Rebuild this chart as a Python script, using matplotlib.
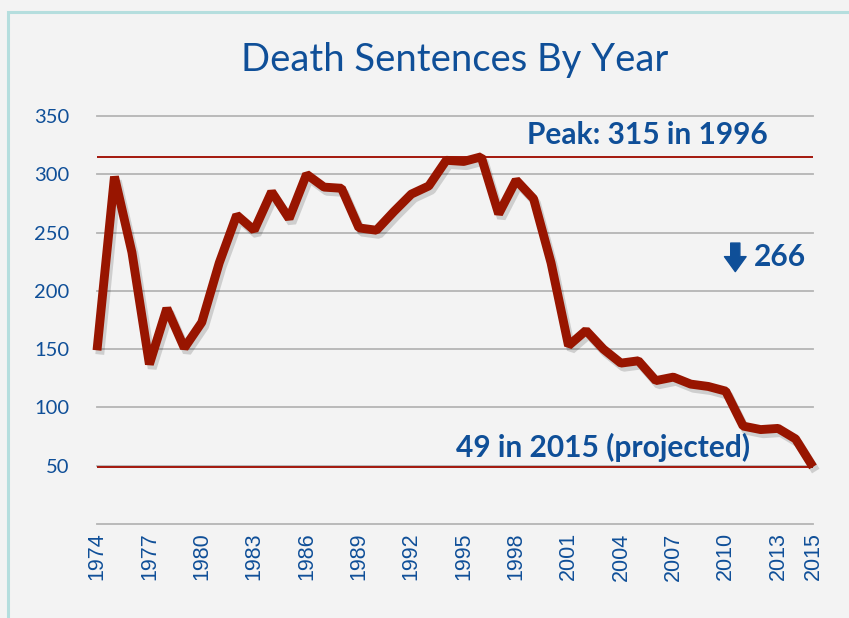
import matplotlib
matplotlib.use("Agg")
import matplotlib.pyplot as plt
import matplotlib.patheffects as pe
from matplotlib.patches import Rectangle

years = list(range(1974, 2016))
sentences = [149, 298, 233, 137, 185, 151, 173, 224, 265, 252, 285, 262, 300, 289,
             288, 254, 252, 268, 283, 290, 312, 311, 315, 266, 295, 279, 224, 153,
             166, 150, 138, 140, 123, 126, 120, 118, 114, 84, 81, 82, 73, 49]
x_ticks = [1974, 1977, 1980, 1983, 1986, 1989, 1992, 1995, 1998, 2001, 2004, 2007, 2010, 2013, 2015]
y_ticks = [0, 50, 100, 150, 200, 250, 300, 350]
y_tick_labels = ["", "50", "100", "150", "200", "250", "300", "350"]
peak_value = 315
latest_value = 49
drop_value = 266

BLUE = "#0f4f98"
RED_LINE = "#981500"
REF_RED = "#a3170c"
BG = "#f3f3f3"

W, H = 849, 618
fig = plt.figure(figsize=(W / 100, H / 100), dpi=100)
fig.patch.set_facecolor(BG)

ax = fig.add_axes([97 / W, 1 - 524 / H, (813 - 97) / W, (524 - 116) / H])
ax.set_facecolor(BG)
for s in ax.spines.values():
    s.set_visible(False)

ax.set_xlim(1974, 2015)
ax.set_ylim(0, 350)
ax.set_yticks(y_ticks)
ax.set_yticklabels(y_tick_labels)
ax.set_xticks(x_ticks)
ax.set_xticklabels([str(t) for t in x_ticks], rotation=90)
ax.tick_params(axis="both", length=0)
ax.tick_params(axis="y", pad=20, labelsize=14.5, labelcolor=BLUE)
ax.tick_params(axis="x", pad=6, labelsize=15.5, labelcolor=BLUE)
for lab in ax.get_yticklabels():
    lab.set_family("Lato")
for lab in ax.get_xticklabels():
    lab.set_family("Liberation Sans")

ax.grid(axis="y", color="#b4b4b4", linewidth=1.3, clip_on=False)
ax.set_axisbelow(True)

ax.axhline(peak_value, color=REF_RED, linewidth=1.4, zorder=2)
ax.axhline(latest_value, color=REF_RED, linewidth=1.4, zorder=2)

ax.plot(years, sentences, color=RED_LINE, linewidth=6.4, solid_joinstyle="bevel",
        solid_capstyle="butt", zorder=3, clip_on=False,
        path_effects=[pe.SimpleLineShadow(offset=(2, -3), shadow_color="black", alpha=0.15),
                      pe.Normal()])

ax.text(2005.5, 326, f"Peak: {peak_value} in 1996", ha="center", va="baseline",
        fontsize=21.5, fontweight="bold", color=BLUE, family="Lato", zorder=4)
ax.text(2003.0, 57.5, f"{latest_value} in 2015 (projected)", ha="center", va="baseline",
        fontsize=21.5, fontweight="bold", color=BLUE, family="Lato", zorder=4)
ax.annotate("", xy=(2010.55, 216.5), xytext=(2010.55, 241),
            arrowprops=dict(arrowstyle="simple,head_length=0.9,head_width=1.3,tail_width=0.55",
                            color=BLUE, shrinkA=0, shrinkB=0, mutation_scale=12),
            zorder=4)
ax.text(2011.6, 221, f"{drop_value}", ha="left", va="baseline",
        fontsize=21.5, fontweight="bold", color=BLUE, family="Lato", zorder=4)

fig.text(455 / W, 1 - 71 / H, "Death Sentences By Year", ha="center", va="baseline",
         fontsize=27.5, color=BLUE, family="Lato")

fig.patches.append(Rectangle((8 / W, -0.1), 1.2, 1 - 12 / H + 0.1, transform=fig.transFigure,
                             fill=False, edgecolor="#b5dede", linewidth=2.2, zorder=0))

fig.savefig("out.png", dpi=100, facecolor=BG)
